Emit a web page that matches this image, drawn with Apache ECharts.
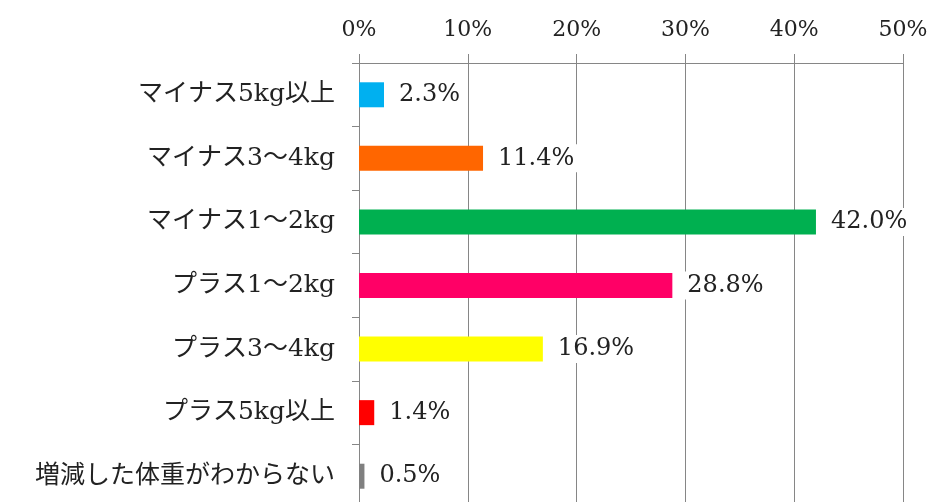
<!DOCTYPE html>
<html>
<head>
<meta charset="utf-8">
<style>
html, body { margin: 0; padding: 0; background: #fff; overflow: hidden; }
#main { width: 933px; height: 512px; }
</style>
<script src="https://cdn.jsdelivr.net/npm/echarts@6/dist/echarts.min.js"></script>
</head>
<body>
<div id="main"></div>
<script>
var dom = document.getElementById('main');
var myChart = echarts.init(dom, null, { renderer: 'canvas' });

// カテゴリと値（%）
let categories = ['マイナス5kg以上', 'マイナス3〜4kg', 'マイナス1〜2kg', 'プラス1〜2kg', 'プラス3〜4kg', 'プラス5kg以上', '増減した体重がわからない'];
let values = [2.3, 11.4, 42.0, 28.8, 16.9, 1.4, 0.5];
let barColors = ['#00B0F0', '#FF6600', '#00B050', '#FF0066', '#FFFF00', '#FF0000', '#808080'];
let xTicks = [0, 10, 20, 30, 40, 50];

var fontNum = "'DejaVu Serif', 'Noto Sans CJK JP', serif";
var gray = '#868686';

var option = {
    animation: false,
    grid: {
        left: 359,
        right: 30,
        top: 63,
        height: 445
    },
    xAxis: {
        type: 'value',
        position: 'top',
        min: xTicks[0],
        max: xTicks[xTicks.length - 1],
        interval: 10,
        axisLine: { show: true, lineStyle: { color: gray, width: 1 } },
        axisTick: { show: true, length: 9, lineStyle: { color: gray } },
        splitLine: { show: true, lineStyle: { color: gray, width: 1 } },
        axisLabel: {
            margin: 22,
            formatter: '{value}%',
            color: '#222',
            fontSize: 22,
            fontFamily: fontNum
        }
    },
    yAxis: {
        type: 'category',
        inverse: true,
        data: categories,
        axisLine: { show: true, lineStyle: { color: gray, width: 1 } },
        axisTick: { show: true, length: 7, lineStyle: { color: gray } },
        axisLabel: {
            margin: 24,
            color: '#222',
            fontSize: 25,
            fontFamily: fontNum
        }
    },
    series: [
        {
            type: 'bar',
            barWidth: 25,
            data: values.map(function (v, i) {
                return { value: v, itemStyle: { color: barColors[i] } };
            }),
            label: {
                show: true,
                position: 'right',
                distance: 12,
                formatter: function (p) { return p.value.toFixed(1) + '%'; },
                color: '#222',
                fontSize: 24,
                fontFamily: fontNum,
                backgroundColor: '#fff',
                padding: [2, 3]
            }
        }
    ]
};

myChart.setOption(option);
window.addEventListener('resize', myChart.resize);
</script>
</body>
</html>
